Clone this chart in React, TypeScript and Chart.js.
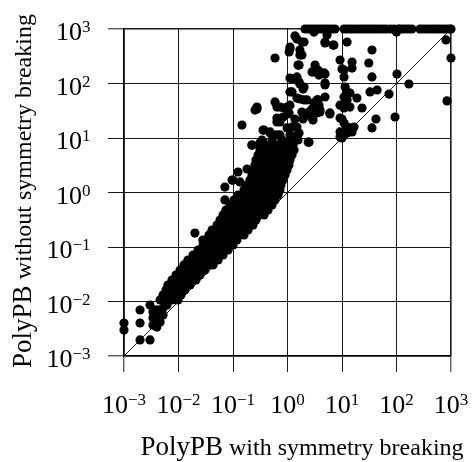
import React, { useEffect, useRef } from 'react';
import { Chart, registerables } from 'chart.js';

Chart.register(...registerables);

const FONT = '"Liberation Serif", "Times New Roman", serif';

// decade ticks
const tickValues = [0.001, 0.01, 0.1, 1, 10, 100, 1000];
const tickExponents = ['\u22123', '\u22122', '\u22121', '0', '1', '2', '3'];

// axis titles
const xTitleMain = 'PolyPB';
const xTitleRest = ' with symmetry breaking';
const yTitleMain = 'PolyPB';
const yTitleRest = ' without symmetry breaking';

// diagonal y = x
const diagonal = [0.001, 1000];

// instances that timed out without symmetry breaking (y = 1000)
const timeoutX = [2.1, 2.38, 2.7, 3.06, 3.48, 3.95, 4.48, 5.08, 5.77, 6.55, 7.44, 10.9, 12.4, 14.0, 15.9, 18.1, 20.5, 23.3, 26.4, 30.0, 34.0, 38.6, 43.9, 49.8, 56.5, 64.1, 76, 90, 108, 116, 132, 149, 169, 192, 270, 306, 348, 395, 448, 508, 577, 656, 745, 845, 960, 1000];

// scattered points, upper-left / middle area
const upperPoints: [number, number][] = [
  [1.37, 745], [1.49, 656], [2.01, 577], [1.11, 467], [1.07, 379], [1.69, 412], [1.69, 334], [0.59, 294],
  [1.63, 218], [3.2, 218], [2.82, 163], [3.78, 143], [4.68, 156], [1.11, 126], [1.49, 132], [1.63, 107],
  [2.01, 86], [4.88, 102], [1.11, 70], [1.49, 54], [2.01, 50], [3.48, 50], [3.06, 44], [3.78, 40],
  [4.88, 56.5], [0.275, 37], [0.254, 32.6], [0.59, 46], [0.64, 37], [0.86, 35.5], [1.07, 28.8], [1.11, 40],
  [2.01, 26.4], [2.48, 30], [2.82, 23.3], [3.48, 28.8], [3.95, 30], [6.0, 28.8], [0.64, 23.3], [0.73, 19.7],
  [0.146, 17.3], [0.37, 14], [0.48, 12.4], [0.64, 11.4], [0.98, 15.3], [1.49, 15.9], [1.63, 12.4], [2.48, 8.4],
  [0.223, 7.4], [0.31, 8.1], [0.46, 6.8],
  [1.84, 577], [5.31, 776], [4.88, 577], [6.84, 508], [1.11, 430], [1.84, 334], [1.56, 218], [2.94, 163],
  [3.63, 177], [4.88, 149], [10, 185], [1.21, 121], [1.69, 98], [1.93, 79], [1.21, 70], [1.69, 52],
  [2.28, 50], [3.63, 50], [2.82, 34], [3.95, 32.6], [4.88, 94], [6.0, 27.6], [0.275, 34], [0.73, 37],
  [0.98, 37], [1.02, 27.6], [0.83, 24.3], [1.37, 22.3], [1.84, 30], [1.93, 22.3], [2.59, 26.4], [2.94, 21.3],
  [0.355, 14], [0.48, 12.9], [0.64, 19.7], [1.21, 15.9], [9.2, 40], [10, 22.3], [3.06, 880], [100, 880],
];

// scattered points, right area
const rightPoints: [number, number][] = [
  [4.88, 553], [7.1, 508], [12.4, 577], [35.5, 412], [9.2, 270], [15.3, 248], [10.9, 177], [15.3, 192],
  [31, 238], [35.5, 132], [102, 149], [169, 98], [810, 630], [1000, 294], [10.9, 132], [11.4, 86],
  [12.4, 70], [14, 67], [10.9, 56.5], [12.4, 50], [18.8, 54], [23.3, 35.5], [14, 37], [10.9, 35.5],
  [32.6, 70], [44, 76], [73, 64], [94, 24.3], [42, 22.3], [35.5, 15.3], [845, 48], [9.2, 23.3],
  [10.9, 18.8], [12.4, 15.9], [14, 15.3], [16.6, 15.9], [9.2, 12.9], [10.9, 11.4], [10, 10], [12.4, 12.4],
  [15.3, 12.9],
];

// points scattered around the main band
const midOutliers: [number, number][] = [
  [0.1, 1.69], [0.134, 1.56], [0.1235, 2.38], [0.181, 2.7], [0.223, 7.44], [0.313, 7.44], [0.355, 8.4],
  [1.11, 8.4], [1.49, 11.4], [2.4, 8.4], [9.2, 10.4], [0.02, 0.18], [0.028, 0.134], [0.071, 0.73],
  [0.071, 1.26], [0.096, 1.69], [0.088, 0.42], [0.058, 0.253],
];

// small instances, lower left
const lowPoints: [number, number][] = [
  [0.001, 0.00403], [0.001, 0.003], [0.00197, 0.00698], [0.00197, 0.00403], [0.00197, 0.00197],
  [0.003, 0.00197], [0.003, 0.00863], [0.0034, 0.00642], [0.0034, 0.00498], [0.004, 0.0034],
  [0.0034, 0.0037], [0.0046, 0.0042], [0.0052, 0.00565], [0.00615, 0.00863], [0.004, 0.00498],
  [0.0046, 0.00642], [0.0052, 0.0076], [0.004, 0.007],
];

// the dense band: one y value per row and the x values read along that row
const bandRowY = [0.0107, 0.0132, 0.0163, 0.0201, 0.0248, 0.0306, 0.0378, 0.0468, 0.0577, 0.0713, 0.0881, 0.109, 0.134, 0.166, 0.205, 0.253, 0.313, 0.387, 0.477, 0.59, 0.728, 0.9, 1.11, 1.37, 1.69, 2.1, 2.59, 3.2, 3.95, 4.88, 6.02, 7.44, 9.19, 11.4];
const bandRowX = [
  [0.0046, 0.0059, 0.0076, 0.0098],
  [0.0052, 0.0067, 0.0086, 0.0111],
  [0.0059, 0.0076, 0.0098, 0.0131],
  [0.0064, 0.0083, 0.0106, 0.0137, 0.0163],
  [0.0076, 0.0098, 0.0126, 0.0163, 0.0209],
  [0.009, 0.0116, 0.0149, 0.0192, 0.0248],
  [0.0107, 0.0137, 0.0177, 0.0228, 0.0306],
  [0.0126, 0.0163, 0.0209, 0.027, 0.0348, 0.043],
  [0.0149, 0.0192, 0.0248, 0.032, 0.0412, 0.0531],
  [0.0185, 0.0238, 0.0306, 0.0395, 0.0509, 0.0656],
  [0.0228, 0.0294, 0.0379, 0.0488, 0.0628, 0.081],
  [0.0282, 0.0363, 0.0467, 0.0602, 0.0776, 0.1],
  [0.032, 0.0412, 0.0531, 0.0684, 0.0881, 0.118],
  [0.0363, 0.0467, 0.0602, 0.0776, 0.1, 0.129, 0.159],
  [0.0412, 0.0531, 0.0684, 0.0881, 0.1135, 0.146, 0.1885],
  [0.0509, 0.0656, 0.0845, 0.109, 0.14, 0.181, 0.233],
  [0.0578, 0.0744, 0.0959, 0.1235, 0.159, 0.205, 0.264],
  [0.0656, 0.0845, 0.109, 0.14, 0.181, 0.233, 0.3, 0.371],
  [0.0744, 0.0959, 0.1235, 0.159, 0.205, 0.264, 0.341, 0.439],
  [0.0881, 0.1135, 0.146, 0.1885, 0.243, 0.313, 0.403, 0.52],
  [0.104, 0.134, 0.173, 0.223, 0.288, 0.371, 0.478, 0.59],
  [0.1235, 0.159, 0.205, 0.264, 0.341, 0.439, 0.565, 0.67],
  [0.159, 0.205, 0.264, 0.341, 0.439, 0.565, 0.728],
  [0.181, 0.233, 0.3, 0.387, 0.498, 0.642, 0.76],
  [0.205, 0.264, 0.341, 0.439, 0.565, 0.728, 0.827],
  [0.223, 0.288, 0.371, 0.478, 0.615, 0.793, 0.9],
  [0.233, 0.3, 0.387, 0.498, 0.642, 0.827, 0.979],
  [0.253, 0.327, 0.421, 0.542, 0.698, 0.9, 1.065],
  [0.264, 0.341, 0.439, 0.565, 0.728, 0.939, 1.11],
  [0.288, 0.371, 0.478, 0.615, 0.793, 1.02, 1.21],
  [0.313, 0.403, 0.52, 0.67, 0.863, 1.11, 1.32],
  [0.341, 0.478, 0.67, 0.939, 1.26],
  [0.341, 0.52, 0.793, 1.11, 1.56],
  [0.728, 1.11],
];

const labelPlugin = {
  id: 'decadeLabels',
  afterDraw(chart: any) {
    const ctx: CanvasRenderingContext2D = chart.ctx;
    const xs = chart.scales.x;
    const ys = chart.scales.y;
    const baseFont = `26px ${FONT}`;
    const expFont = `17px ${FONT}`;
    ctx.save();
    ctx.fillStyle = '#000';
    ctx.textBaseline = 'alphabetic';
    ctx.textAlign = 'left';
    tickValues.forEach((v, i) => {
      const exp = tickExponents[i];
      ctx.font = baseFont;
      const wb = ctx.measureText('10').width;
      ctx.font = expFont;
      const we = ctx.measureText(exp).width;
      // y-axis label
      const py = ys.getPixelForValue(v);
      const right = ys.right - 16 - 17.5;
      const yb = py + 11;
      ctx.font = baseFont;
      ctx.fillText('10', right - wb - we, yb);
      ctx.font = expFont;
      ctx.fillText(exp, right - we, yb - 8);
      // x-axis label
      const px = xs.getPixelForValue(v);
      const xb = xs.top + 57;
      const left = px - (wb + we) / 2;
      ctx.font = baseFont;
      ctx.fillText('10', left, xb);
      ctx.font = expFont;
      ctx.fillText(exp, left + wb, xb - 8);
    });

    const mainFont = `27px ${FONT}`;
    const restFont = `24px ${FONT}`;
    // x title
    ctx.font = mainFont;
    const xm = ctx.measureText(xTitleMain).width;
    ctx.font = restFont;
    const xr = ctx.measureText(xTitleRest).width;
    const xStart = 302 - (xm + xr) / 2;
    ctx.font = mainFont;
    ctx.fillText(xTitleMain, xStart, 455);
    ctx.font = restFont;
    ctx.fillText(xTitleRest, xStart + xm, 455);
    // y title
    ctx.translate(31, 191);
    ctx.rotate(-Math.PI / 2);
    ctx.font = mainFont;
    const ym = ctx.measureText(yTitleMain).width;
    ctx.font = restFont;
    const yr = ctx.measureText(yTitleRest).width;
    const yStart = -(ym + yr) / 2;
    ctx.font = mainFont;
    ctx.fillText(yTitleMain, yStart, 0);
    ctx.font = restFont;
    ctx.fillText(yTitleRest, yStart + ym, 0);
    ctx.restore();
  },
};

export default function App() {
  const ref = useRef<HTMLCanvasElement>(null);
  useEffect(() => {
    const points: { x: number; y: number }[] = [];
    timeoutX.forEach((x) => points.push({ x, y: 1000 }));
    [...upperPoints, ...rightPoints, ...midOutliers, ...lowPoints].forEach(([x, y]) => points.push({ x, y }));
    bandRowY.forEach((y, i) => bandRowX[i].forEach((x) => points.push({ x, y })));

    const edgeWidth = (c: any) => (c.index === 0 || c.index === tickValues.length - 1 ? 1.6 : 1);
    const axisCommon = {
      type: 'logarithmic' as const,
      min: 0.001,
      max: 1000,
      afterBuildTicks: (s: any) => {
        s.ticks = tickValues.map((v) => ({ value: v }));
      },
      grid: {
        color: '#1a1a1a',
        lineWidth: edgeWidth,
        drawTicks: true,
        tickLength: 16,
        tickColor: '#1a1a1a',
        tickWidth: 1,
      },
      border: { display: true, color: '#000', width: 1.6 },
      ticks: { display: false },
    };

    const chart = new Chart(ref.current!, {
      type: 'scatter',
      data: {
        datasets: [
          {
            type: 'line',
            data: diagonal.map((v) => ({ x: v, y: v })),
            borderColor: '#222',
            borderWidth: 1,
            pointRadius: 0,
            order: 2,
            clip: false,
          } as any,
          {
            type: 'scatter',
            data: points,
            backgroundColor: '#000',
            borderColor: '#000',
            borderWidth: 0,
            pointRadius: 4.6,
            order: 1,
            clip: false,
          } as any,
        ],
      },
      options: {
        animation: false,
        responsive: false,
        devicePixelRatio: 1,
        layout: { padding: { left: 0, right: 23, top: 29, bottom: 0 } },
        plugins: { legend: { display: false }, tooltip: { enabled: false } },
        scales: {
          x: { ...axisCommon, position: 'bottom', afterFit: (s: any) => { s.height = 106; } } as any,
          y: { ...axisCommon, position: 'left', afterFit: (s: any) => { s.width = 124; } } as any,
        },
      },
      plugins: [labelPlugin],
    });
    return () => chart.destroy();
  }, []);
  return (
    <div style={{ position: 'fixed', left: 0, top: 0, width: 474, height: 462, background: '#fff' }}>
      <canvas ref={ref} width={474} height={462} style={{ width: 474, height: 462, display: 'block' }} />
    </div>
  );
}
